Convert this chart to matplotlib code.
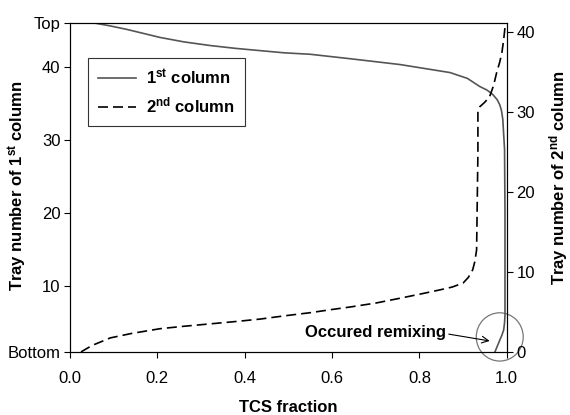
import matplotlib.pyplot as plt
from matplotlib.patches import Ellipse

# 1st column profile: TCS fraction vs tray number (left axis)
col1_x = [0.053, 0.09, 0.13, 0.206, 0.26, 0.32, 0.38, 0.435, 0.49, 0.55,
          0.64, 0.755, 0.87, 0.91, 0.938, 0.955, 0.968, 0.978, 0.984, 0.988,
          0.991, 0.995, 0.996, 0.996, 0.995, 0.993, 0.989, 0.984, 0.973]
col1_tray = [46, 45.6, 45.1, 44.0, 43.4, 42.9, 42.5, 42.2, 41.9, 41.7,
             41.1, 40.3, 39.2, 38.4, 37.3, 36.8, 36.2, 35.5, 34.8, 34.0,
             32.8, 28.7, 20, 6, 5, 4, 3.3, 2.6, 1]

# 2nd column profile: TCS fraction vs tray number (right axis)
col2_x = [0.025, 0.05, 0.092, 0.14, 0.206, 0.26, 0.32, 0.38, 0.435, 0.49,
          0.55, 0.6, 0.64, 0.7, 0.755, 0.8, 0.847, 0.875, 0.9, 0.912,
          0.922, 0.927, 0.931, 0.934, 0.934, 0.938, 0.95, 0.961, 0.97,
          0.977, 0.984, 0.989, 0.993, 0.995, 0.997]
col2_tray = [0, 0.8, 1.75, 2.3, 2.9, 3.2, 3.5, 3.8, 4.1, 4.5,
             4.9, 5.3, 5.6, 6.1, 6.7, 7.2, 7.75, 8.1, 8.6, 9.3,
             10.25, 11.3, 12.75, 25, 30, 30.6, 31.2, 31.9, 33.3,
             34.9, 36.2, 37.4, 39, 40, 41.1]

left_ticks = [1, 10, 20, 30, 40, 46]
left_labels = ['Bottom', '10', '20', '30', '40', 'Top']
right_ticks = [0, 10, 20, 30, 40]
x_ticks = [0.0, 0.2, 0.4, 0.6, 0.8, 1.0]

plt.rcParams['font.family'] = ['Liberation Sans', 'DejaVu Sans']
plt.rcParams['font.size'] = 12
plt.rcParams['mathtext.default'] = 'regular'

fig = plt.figure(figsize=(5.7, 4.15), dpi=100)
ax1 = fig.add_axes([0.123, 0.152, 0.766, 0.793])
ax2 = ax1.twinx()

l1, = ax1.plot(col1_x, col1_tray, color='#555555', lw=1.2)
l2, = ax2.plot(col2_x, col2_tray, color='black', lw=1.2, dashes=(6, 3))

ax1.set_xlim(0, 1.0)
ax1.set_ylim(1, 46)
ax2.set_ylim(0, 41.1)

ax1.set_xticks(x_ticks)
ax1.set_xticklabels(['%.1f' % v for v in x_ticks])
ax1.set_yticks(left_ticks)
ax1.set_yticklabels(left_labels)
ax2.set_yticks(right_ticks)

for ax in (ax1, ax2):
    ax.tick_params(direction='out', length=4, width=0.8, pad=3, labelsize=12)
ax1.tick_params(axis='x', pad=10)

ax1.set_xlabel('TCS fraction', fontweight='bold', fontsize=12)
ax1.xaxis.set_label_coords(0.5, -0.147)
ax1.set_ylabel('Tray number of 1$^{st}$ column', fontweight='bold', fontsize=12)
ax1.yaxis.set_label_coords(-0.094, 0.505)
ax2.set_ylabel('Tray number of 2$^{nd}$ column', fontweight='bold', fontsize=12,
               rotation=90)
ax2.yaxis.set_label_coords(1.092, 0.53)

leg = ax1.legend([l1, l2], ['1$^{st}$ column', '2$^{nd}$ column'],
                 loc='upper left', bbox_to_anchor=(0.041, 0.894),
                 borderaxespad=0, fancybox=False, edgecolor='#333333',
                 framealpha=1, prop={'weight': 'bold', 'size': 12},
                 handlelength=2.3, borderpad=0.6, labelspacing=0.5,
                 handletextpad=0.6)
leg.get_frame().set_linewidth(0.8)

# circle marking the remixing at the bottom
ax1.add_patch(Ellipse((0.984, 3.05), 0.1075, 6.6, fill=False,
                      edgecolor='#777777', lw=0.9, clip_on=False))
ax1.annotate('Occured remixing', xy=(0.961, 2.5), xytext=(0.538, 3.7),
             fontweight='bold', fontsize=12, va='center',
             arrowprops=dict(arrowstyle='->', color='black', lw=0.8,
                             shrinkA=0, shrinkB=0, relpos=(1.0, 0.4)))

fig.savefig('out.png', dpi=100)
